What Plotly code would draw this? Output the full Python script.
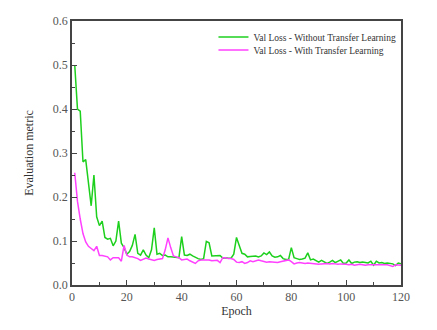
import plotly.graph_objects as go

epochs = list(range(1, 121))

# Val loss, training from scratch
loss_without_tl = [
    0.500, 0.400, 0.395, 0.280, 0.285, 0.230, 0.180, 0.250, 0.155, 0.135,
    0.145, 0.108, 0.104, 0.106, 0.089, 0.100, 0.145, 0.095, 0.085, 0.070,
    0.076, 0.090, 0.115, 0.072, 0.068, 0.080, 0.068, 0.062, 0.080, 0.130,
    0.070, 0.072, 0.067, 0.068, 0.064, 0.064, 0.063, 0.062, 0.062, 0.110,
    0.068, 0.067, 0.070, 0.066, 0.062, 0.060, 0.058, 0.060, 0.099, 0.096,
    0.066, 0.066, 0.066, 0.067, 0.061, 0.062, 0.061, 0.061, 0.070, 0.108,
    0.090, 0.072, 0.070, 0.064, 0.065, 0.066, 0.066, 0.064, 0.066, 0.073,
    0.069, 0.075, 0.066, 0.063, 0.064, 0.067, 0.060, 0.058, 0.058, 0.085,
    0.062, 0.060, 0.058, 0.059, 0.061, 0.073, 0.057, 0.059, 0.056, 0.052,
    0.056, 0.053, 0.049, 0.052, 0.056, 0.051, 0.054, 0.057, 0.049, 0.050,
    0.057, 0.049, 0.052, 0.053, 0.051, 0.052, 0.051, 0.050, 0.054, 0.045,
    0.054, 0.050, 0.051, 0.049, 0.050, 0.049, 0.048, 0.044, 0.050, 0.048,
]

# Val loss, pretrained weights
loss_with_tl = [
    0.255, 0.190, 0.150, 0.117, 0.098, 0.088, 0.083, 0.078, 0.088, 0.067,
    0.067, 0.066, 0.064, 0.057, 0.062, 0.062, 0.062, 0.054, 0.090, 0.068,
    0.064, 0.064, 0.062, 0.060, 0.056, 0.059, 0.061, 0.059, 0.058, 0.056,
    0.058, 0.059, 0.060, 0.080, 0.107, 0.085, 0.066, 0.064, 0.062, 0.057,
    0.058, 0.059, 0.055, 0.052, 0.049, 0.055, 0.057, 0.057, 0.057, 0.057,
    0.055, 0.055, 0.056, 0.051, 0.062, 0.062, 0.060, 0.060, 0.058, 0.052,
    0.051, 0.053, 0.049, 0.051, 0.055, 0.053, 0.055, 0.057, 0.055, 0.054,
    0.052, 0.053, 0.052, 0.052, 0.051, 0.053, 0.054, 0.056, 0.057, 0.053,
    0.048, 0.050, 0.051, 0.050, 0.049, 0.050, 0.049, 0.048, 0.048, 0.047,
    0.048, 0.049, 0.049, 0.048, 0.049, 0.048, 0.047, 0.048, 0.048, 0.047,
    0.046, 0.047, 0.045, 0.046, 0.047, 0.046, 0.045, 0.046, 0.046, 0.045,
    0.046, 0.045, 0.046, 0.045, 0.046, 0.044, 0.042, 0.046, 0.046, 0.045,
]

serif = "Liberation Serif, Times New Roman, serif"
axis_color = "#444444"
legend_font = {"family": serif, "size": 9.5, "color": "#333333"}

fig = go.Figure()
fig.add_trace(
    go.Scatter(
        x=epochs,
        y=loss_without_tl,
        mode="lines",
        name="Val Loss - Without Transfer Learning",
        line={"color": "#1ed01e", "width": 1.5},
        legend="legend",
    )
)
fig.add_trace(
    go.Scatter(
        x=epochs,
        y=loss_with_tl,
        mode="lines",
        name="Val Loss - With Transfer Learning",
        line={"color": "#ff40ff", "width": 1.5},
        legend="legend2",
    )
)

axis_style = dict(
    showline=True,
    linecolor=axis_color,
    linewidth=1.5,
    mirror=True,
    showgrid=False,
    zeroline=False,
    automargin=False,
    ticks="inside",
    ticklen=5,
    tickwidth=1,
    tickcolor=axis_color,
    tickfont={"family": serif, "size": 12, "color": "#555555"},
    title_font={"family": serif, "size": 12, "color": "#333333"},
)

fig.update_xaxes(
    range=[0, 120],
    dtick=20,
    minor={"dtick": 10, "ticks": "inside", "ticklen": 3, "tickcolor": axis_color},
    title_text="Epoch",
    title_standoff=3,
    **axis_style,
)
fig.update_yaxes(
    range=[0, 0.6],
    dtick=0.1,
    tickformat=".1f",
    minor={"dtick": 0.05, "ticks": "inside", "ticklen": 3, "tickcolor": axis_color},
    title_text="Evaluation metric",
    title_standoff=17,
    **axis_style,
)

# two single-item legends so the rows sit close together like the original
legend_common = dict(
    x=0.43,
    xanchor="left",
    yanchor="middle",
    bgcolor="rgba(0,0,0,0)",
    font=legend_font,
    itemwidth=30,
)

fig.update_layout(
    width=437,
    height=330,
    margin={"l": 72, "r": 36, "t": 21, "b": 45},
    plot_bgcolor="white",
    paper_bgcolor="white",
    showlegend=True,
    legend={**legend_common, "y": 0.939},
    legend2={**legend_common, "y": 0.890},
)

# drop the browser's default body margin so the figure sits at the page origin
fig.write_html(
    "out.html",
    config={"displayModeBar": False},
    post_script="document.body.style.margin = '0';",
)
